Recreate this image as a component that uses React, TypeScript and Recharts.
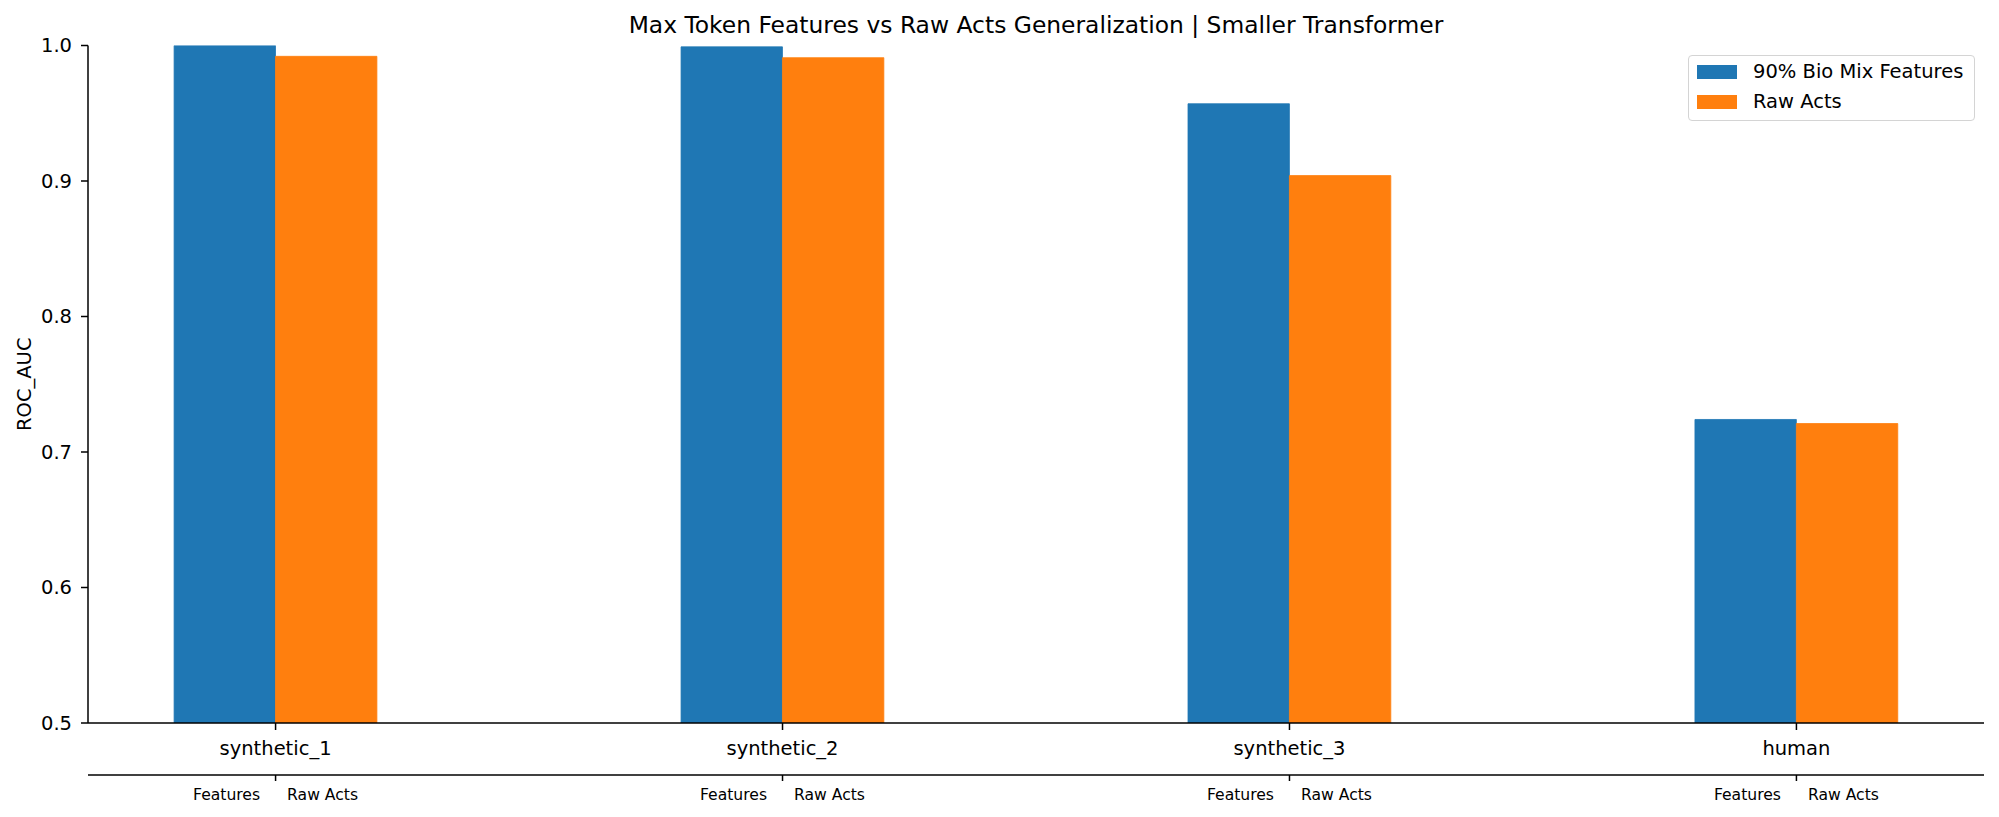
import React from 'react';
import { BarChart, Bar, XAxis, YAxis, Legend } from 'recharts';

const categories = ['synthetic_1', 'synthetic_2', 'synthetic_3', 'human'];
const featuresValues = [1.0, 0.999, 0.957, 0.724];
const rawActsValues = [0.992, 0.991, 0.904, 0.721];
const seriesNames = ['90% Bio Mix Features', 'Raw Acts'];
const subLabels = ['Features', 'Raw Acts'];
const yTicks = [0.5, 0.6, 0.7, 0.8, 0.9, 1.0];
const titleText = 'Max Token Features vs Raw Acts Generalization | Smaller Transformer';
const yLabelText = 'ROC_AUC';

const data = categories.map((c, i) => ({
  x: i,
  name: c,
  features: featuresValues[i],
  raw: rawActsValues[i],
}));
const xTicks = categories.map((_, i) => i);

const FONT = '"DejaVu Sans", sans-serif';
const BLUE = '#1f77b4';
const ORANGE = '#ff7f0e';

const MainTick = (props: any) => {
  const { x, y, payload } = props;
  return (
    <text x={x} y={y + 25} textAnchor="middle" fontSize={19.5} fontFamily={FONT} fill="#000">
      {categories[payload.value]}
    </text>
  );
};

const SubTick = (props: any) => {
  const { x, y } = props;
  return (
    <g>
      <text x={x - 49} y={y + 19} textAnchor="middle" fontSize={15.6} fontFamily={FONT} fill="#000">
        {subLabels[0]}
      </text>
      <text x={x + 47} y={y + 19} textAnchor="middle" fontSize={15.6} fontFamily={FONT} fill="#000">
        {subLabels[1]}
      </text>
    </g>
  );
};

const renderLegend = (props: any) => {
  const payload = props.payload || [];
  return (
    <div
      style={{
        position: 'relative',
        width: 287,
        height: 66,
        boxSizing: 'border-box',
        border: '1.5px solid #d4d4d4',
        borderRadius: 4,
        background: 'rgba(255,255,255,0.8)',
        fontFamily: FONT,
        fontSize: 19.5,
        color: '#000',
      }}
    >
      {payload.map((p: any, i: number) => (
        <div key={i} style={{ position: 'absolute', left: 0, top: 9 + i * 30, height: 14, width: 287 }}>
          <div style={{ position: 'absolute', left: 8, top: 0, width: 40, height: 14, background: p.color }} />
          <div
            style={{
              position: 'absolute',
              left: 64,
              top: -7,
              lineHeight: '28px',
              height: 28,
              whiteSpace: 'nowrap',
            }}
          >
            {p.value}
          </div>
        </div>
      ))}
    </div>
  );
};

const YLabel = (props: any) => {
  const vb = props.viewBox || { x: 28, y: 45.5, height: 677.5 };
  const cx = vb.x - 4;
  const cy = vb.y + vb.height / 2;
  return (
    <text
      x={cx}
      y={cy}
      transform={`rotate(-90 ${cx} ${cy})`}
      textAnchor="middle"
      dominantBaseline="central"
      fontSize={19.5}
      fontFamily={FONT}
      fill="#000"
    >
      {yLabelText}
    </text>
  );
};

export default function App() {
  return (
    <div style={{ position: 'absolute', left: 0, top: 0, width: 1999, height: 817, background: '#fff' }}>
      <BarChart
        width={1999}
        height={817}
        data={data}
        margin={{ top: 45.5, right: 15, bottom: 0, left: 28 }}
        barGap={0}
      >
        <XAxis
          xAxisId="main"
          dataKey="x"
          type="number"
          domain={[-0.37, 3.37]}
          allowDataOverflow
          ticks={xTicks}
          interval={0}
          height={52}
          tickSize={7}
          tickMargin={0}
          tick={<MainTick />}
          axisLine={{ stroke: '#000', strokeWidth: 1.5 }}
          tickLine={{ stroke: '#000', strokeWidth: 1.5 }}
        />
        <XAxis
          xAxisId="sub"
          dataKey="x"
          type="number"
          domain={[-0.37, 3.37]}
          allowDataOverflow
          ticks={xTicks}
          interval={0}
          height={42}
          tickSize={6}
          tickMargin={0}
          tick={<SubTick />}
          axisLine={{ stroke: '#000', strokeWidth: 1.5 }}
          tickLine={{ stroke: '#000', strokeWidth: 1.5 }}
        />
        <YAxis
          yAxisId="left"
          type="number"
          domain={[0.5, 1.0]}
          allowDataOverflow
          ticks={yTicks}
          interval={0}
          width={60}
          tickSize={7}
          tickMargin={9}
          tickFormatter={(v: number) => v.toFixed(1)}
          tick={{ fontSize: 19.5, fontFamily: FONT, fill: '#000' }}
          axisLine={{ stroke: '#000', strokeWidth: 1.5 }}
          tickLine={{ stroke: '#000', strokeWidth: 1.5 }}
          label={<YLabel />}
        />
        <YAxis
          yAxisId="right"
          orientation="right"
          type="number"
          domain={[0.5, 1.0]}
          allowDataOverflow
          width={0}
          tick={false}
          tickLine={false}
          axisLine={{ stroke: '#000', strokeWidth: 1.5 }}
        />
        <Legend
          layout="horizontal"
          verticalAlign="middle"
          align="center"
          content={renderLegend}
          wrapperStyle={{ left: 1688, top: 55, width: 287, height: 66 }}
        />
        <Bar
          xAxisId="main"
          yAxisId="left"
          dataKey="features"
          name={seriesNames[0]}
          fill={BLUE}
          stroke={BLUE}
          strokeWidth={0.8}
          barSize={101.4}
          isAnimationActive={false}
        />
        <Bar
          xAxisId="main"
          yAxisId="left"
          dataKey="raw"
          name={seriesNames[1]}
          fill={ORANGE}
          stroke={ORANGE}
          strokeWidth={0.8}
          barSize={101.4}
          isAnimationActive={false}
        />
      </BarChart>
      <svg
        width={1999}
        height={817}
        style={{ position: 'absolute', left: 0, top: 0, pointerEvents: 'none' }}
      >
        <text x={1036} y={33} textAnchor="middle" fontSize={23.4} fontFamily={FONT} fill="#000">
          {titleText}
        </text>
      </svg>
    </div>
  );
}
